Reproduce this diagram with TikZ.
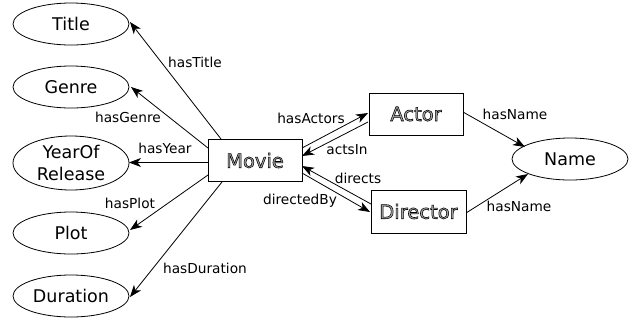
\documentclass[tikz,border=0pt]{standalone}
\usepackage{fontspec}
\setmainfont{DejaVu Sans}
\usetikzlibrary{shapes.geometric,arrows.meta}
\newcommand{\outl}[1]{{\color{black!35}\special{pdf:literal direct 0 G 2 Tr 0.55 w}#1\special{pdf:literal direct 0 Tr}}}
\tikzset{
  prop/.style={ellipse,draw,line width=0.8pt,minimum width=116pt,minimum height=42pt,inner sep=0pt,font=\fontsize{17.5}{22}\selectfont,align=center},
  cls/.style={rectangle,draw,line width=0.8pt,minimum width=94pt,minimum height=42pt,inner sep=0pt,font=\fontsize{19.5}{21}\selectfont},
  edge/.style={line width=0.8pt,-{Stealth[length=12pt,width=9pt,inset=3.5pt]}},
  lbl/.style={font=\fontsize{13.7}{15}\selectfont,inner sep=0pt}
}
\begin{document}
\begin{tikzpicture}[x=1pt,y=-1pt]
\useasboundingbox (0,0) rectangle (643,325);
\node[prop] (title) at (71,24) {Title};
\node[prop] (genre) at (71,87) {Genre};
\node[prop,minimum height=54pt] (year) at (71,163) {YearOf\\Release};
\node[prop] (plot) at (71,233) {Plot};
\node[prop] (dur) at (71,296) {Duration};
\node[cls] (movie) at (255,160.5) {\outl{Movie}};
\node[cls] (actor) at (416,114) {\outl{Actor}};
\node[cls,minimum width=95pt,minimum height=43pt] (dir) at (418.5,211.5) {\outl{Director}};
\node[prop] (name) at (570,159) {Name};
\coordinate (mt) at (221,139);
\coordinate (mg) at (208,148);
\coordinate (my) at (208,162.5);
\coordinate (mp) at (208,175);
\coordinate (md) at (222,182);
\coordinate (tt) at (130,22);
\coordinate (gt) at (131,87);
\coordinate (yt) at (129,162.5);
\coordinate (pt) at (130,230);
\coordinate (dt) at (130,297);
\draw[edge] (mt) -- (tt);
\draw[edge] (mg) -- (gt);
\draw[edge] (my) -- (yt);
\draw[edge] (mp) -- (pt);
\draw[edge] (md) -- (dt);
\coordinate (m1) at (302,148); \coordinate (a1) at (368,113);
\coordinate (a2) at (368,122); \coordinate (m2) at (302,156);
\coordinate (d1) at (371,204); \coordinate (m3) at (302,166);
\coordinate (m4) at (302,173); \coordinate (d2) at (370,212);
\draw[edge] (m1) -- (a1);
\draw[edge] (a2) -- (m2);
\draw[edge] (d1) -- (m3);
\draw[edge] (m4) -- (d2);
\coordinate (a3) at (463,112); \coordinate (n1) at (525,147);
\coordinate (d3) at (466,213); \coordinate (n2) at (528,174);
\draw[edge] (a3) -- (n1);
\draw[edge] (d3) -- (n2);
\node[lbl] (l1) at (195,62) {hasTitle};
\node[lbl] (l2) at (128,117) {hasGenre};
\node[lbl] (l3) at (165,148) {hasYear};
\node[lbl] (l4) at (130,203) {hasPlot};
\node[lbl] (l5) at (205,268) {hasDuration};
\node[lbl] (l6) at (311,118) {hasActors};
\node[lbl] (l7) at (347,150) {actsIn};
\node[lbl] (l8) at (358,178) {directs};
\node[lbl] (l9) at (300,201) {directedBy};
\node[lbl] (l10) at (515,114) {hasName};
\node[lbl] (l11) at (519,206) {hasName};
\end{tikzpicture}
\end{document}
